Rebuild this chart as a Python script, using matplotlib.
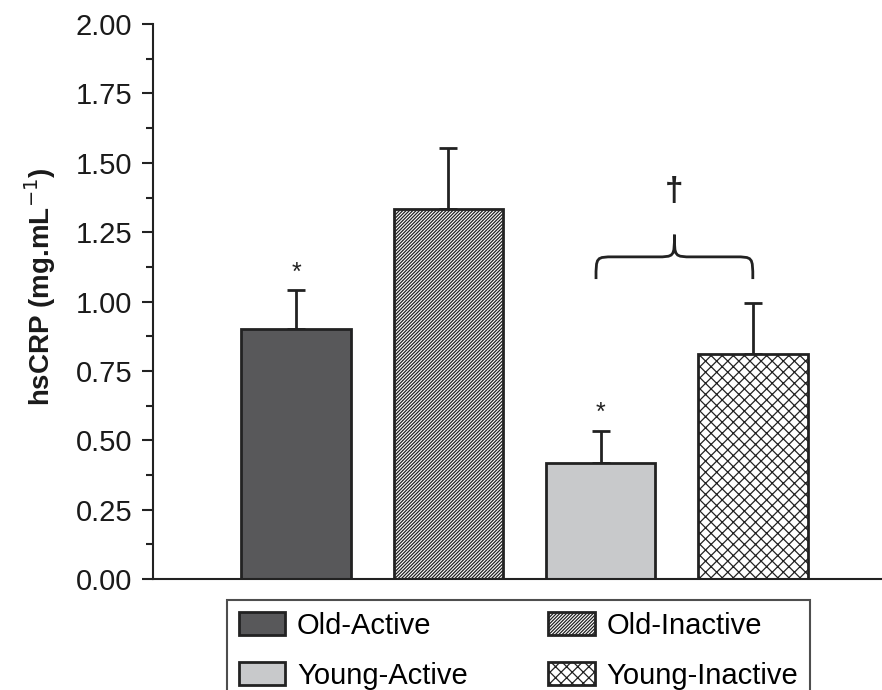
import numpy as np
import matplotlib.pyplot as plt
from matplotlib.path import Path
from matplotlib.patches import PathPatch
from matplotlib.ticker import MultipleLocator

plt.rcParams['font.family'] = ['Liberation Sans', 'DejaVu Sans']
plt.rcParams['hatch.linewidth'] = 0.9

groups = ['Old-Active', 'Old-Inactive', 'Young-Active', 'Young-Inactive']
means = [0.90, 1.333, 0.418, 0.811]
sems = [0.14, 0.22, 0.115, 0.185]
colors = ['#58585a', 'white', '#c8c9cb', 'white']
hatches = [None, '//////////', None, 'xxx']
stars = ['*', '', '*', '']

fig = plt.figure(figsize=(8.82, 6.9), dpi=100)
ax = fig.add_axes([0.1735, 0.161, 0.825, 0.804])

x = np.arange(len(groups))
bars = []
for i in range(len(groups)):
    b = ax.bar(x[i], means[i], width=0.72, color=colors[i], edgecolor='#222222',
               linewidth=2, hatch=hatches[i], label=groups[i], zorder=2)
    bars.append(b)
    ax.errorbar(x[i], means[i], yerr=[[0], [sems[i]]], fmt='none',
                ecolor='#222222', elinewidth=2, capsize=6.5, capthick=2, zorder=1)
    if stars[i]:
        ax.text(x[i], means[i] + sems[i] + 0.065, stars[i], ha='center', va='center',
                fontsize=18, color='#222222')

# brace over the young groups
x0, x1 = x[2] - 0.03, x[3]
xc = (x0 + x1) / 2
yb = means[3] + sems[3] + 0.085
ym = yb + 0.08
yt = ym + 0.08
verts = [(x0, yb), (x0, ym), (x0, ym), (x0 + 0.12, ym),
         (xc - 0.12, ym),
         (xc, ym), (xc, ym), (xc, yt),
         (xc, ym), (xc, ym), (xc + 0.12, ym),
         (x1 - 0.12, ym),
         (x1, ym), (x1, ym), (x1, yb)]
codes = [Path.MOVETO, Path.CURVE4, Path.CURVE4, Path.CURVE4,
         Path.LINETO,
         Path.CURVE4, Path.CURVE4, Path.CURVE4,
         Path.CURVE4, Path.CURVE4, Path.CURVE4,
         Path.LINETO,
         Path.CURVE4, Path.CURVE4, Path.CURVE4]
ax.add_patch(PathPatch(Path(verts, codes), fill=False, lw=2, edgecolor='#222222',
                       capstyle='butt'))
ax.text(xc, yt + 0.155, '\u2020', ha='center', va='center', fontsize=24,
        fontweight='bold', color='#222222')

ax.set_xlim(-0.94, 3.84)
ax.set_ylim(0, 2.0)
ax.yaxis.set_major_locator(MultipleLocator(0.25))
ax.yaxis.set_minor_locator(MultipleLocator(0.125))
ax.set_yticks(np.arange(0, 2.01, 0.25))
ax.set_yticklabels(['%.2f' % v for v in np.arange(0, 2.01, 0.25)])
ax.set_xticks([])
ax.tick_params(axis='y', which='major', length=8, width=1.5, labelsize=21,
               pad=7, color='#222222', labelcolor='#1a1a1a')
ax.tick_params(axis='y', which='minor', length=5, width=1.5, color='#222222')
for s in ['top', 'right']:
    ax.spines[s].set_visible(False)
for s in ['left', 'bottom']:
    ax.spines[s].set_linewidth(1.5)
    ax.spines[s].set_color('#222222')
ax.set_ylabel('hsCRP (mg.mL$^{-1}$)', fontsize=20, fontweight='bold',
              color='#1a1a1a')
ax.yaxis.set_label_coords(-0.131, 0.527)

handles = [bars[0], bars[2], bars[1], bars[3]]
leg = fig.legend(handles=handles, labels=[groups[0], groups[2], groups[1], groups[3]],
                 ncol=2, loc='upper left', bbox_to_anchor=(0.2574, 0.1304),
                 fontsize=21, frameon=True, fancybox=False,
                 edgecolor='#222222', handlelength=1.6, handleheight=0.8,
                 handletextpad=0.4, borderpad=0.4, labelspacing=0.75,
                 columnspacing=2.75, borderaxespad=0)
leg.get_frame().set_linewidth(1.5)

plt.savefig('out.png', dpi=100)
